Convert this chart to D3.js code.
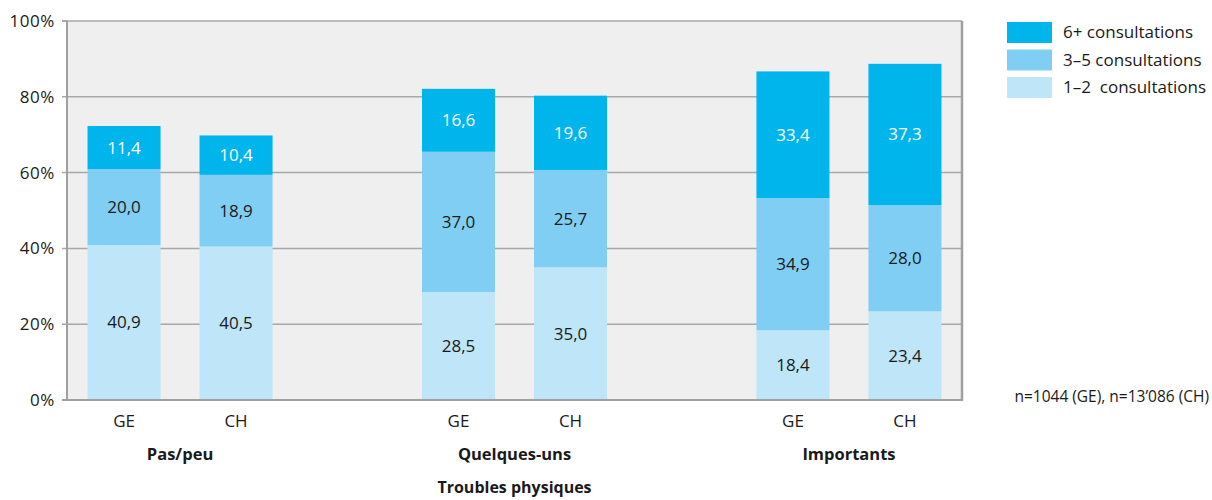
<!DOCTYPE html>
<html><head><meta charset="utf-8">
<script src="https://cdn.jsdelivr.net/npm/d3@7"></script>
<style>
body{margin:0;background:#fff;}
text{font-family:"Open Sans","Noto Sans",sans-serif;fill:#1a1a1a;white-space:pre;}
</style></head>
<body>
<svg id="chart" width="1212" height="500"></svg>
<script>
const groups = ["Pas/peu", "Quelques-uns", "Importants"];
const regions = ["GE", "CH"];
const seriesNames = ["1–2  consultations", "3–5 consultations", "6+ consultations"];
const val12 = [40.9, 40.5, 28.5, 35.0, 18.4, 23.4];
const val35 = [20.0, 18.9, 37.0, 25.7, 34.9, 28.0];
const val6p = [11.4, 10.4, 16.6, 19.6, 33.4, 37.3];
const yTicks = [0, 20, 40, 60, 80, 100];
const colors = ["#bee5f8", "#81cef4", "#00b5ec"];
const axisTitle = "Troubles physiques";
const note = "n=1044 (GE), n=13’086 (CH)";

const svg = d3.select("#chart");
const x0 = 67, x1 = 962, yTop = 21, yBot = 400;

const y = d3.scaleLinear().domain([0, 100]).range([yBot, yTop]);
const xg = d3.scalePoint().domain(groups).range([x0, x1]).padding(0.338);
const xs = d3.scaleBand().domain(regions).range([-112, 112]).paddingInner(0.348).paddingOuter(0.174);

// plot background
svg.append("rect").attr("x", x0).attr("y", yTop).attr("width", x1 - x0).attr("height", yBot - yTop).attr("fill", "#efefef");

// gridlines
svg.append("g").selectAll("line").data(yTicks.filter(d => d > 0)).join("line")
  .attr("x1", x0 - 5).attr("x2", x1).attr("y1", d => y(d)).attr("y2", d => y(d))
  .attr("stroke", "#a8a8a8").attr("stroke-width", 1.5);

// data rows
const rows = [];
groups.forEach((g, gi) => regions.forEach((r, ri) => {
  const i = gi * 2 + ri;
  rows.push({group: g, region: r, vals: [val12[i], val35[i], val6p[i]]});
}));

const stack = d3.stack().keys([0, 1, 2]).value((d, k) => d.vals[k]);
const stacked = stack(rows);

const barG = svg.append("g");
stacked.forEach((layer, k) => {
  barG.append("g").selectAll("rect").data(layer).join("rect")
    .attr("x", d => xg(d.data.group) + xs(d.data.region))
    .attr("width", xs.bandwidth())
    .attr("y", d => y(d[1]))
    .attr("height", d => y(d[0]) - y(d[1]))
    .attr("fill", colors[k]);
  barG.append("g").selectAll("text").data(layer).join("text")
    .attr("x", d => xg(d.data.group) + xs(d.data.region) + xs.bandwidth() / 2)
    .attr("y", d => (y(d[0]) + y(d[1])) / 2)
    .attr("dy", "0.35em")
    .attr("text-anchor", "middle")
    .style("font-size", "17px")
    .style("fill", k === 2 ? "#ffffff" : "#1a1a1a")
    .text(d => d.data.vals[k].toFixed(1).replace(".", ","));
});

// axes lines
svg.append("line").attr("x1", x0).attr("x2", x0).attr("y1", yTop).attr("y2", yBot + 1).attr("stroke", "#a0a0a0").attr("stroke-width", 2);
svg.append("line").attr("x1", x1).attr("x2", x1).attr("y1", yTop).attr("y2", yBot + 1).attr("stroke", "#a0a0a0").attr("stroke-width", 2.5);
svg.append("line").attr("x1", x0 - 5).attr("x2", x1 + 1).attr("y1", yBot).attr("y2", yBot).attr("stroke", "#a0a0a0").attr("stroke-width", 2);
svg.append("line").attr("x1", x0 - 5).attr("x2", x0).attr("y1", yTop).attr("y2", yTop).attr("stroke", "#a0a0a0").attr("stroke-width", 1.5);

// y tick labels
svg.append("g").selectAll("text").data(yTicks).join("text")
  .attr("x", 55).attr("y", d => y(d)).attr("dy", "0.35em")
  .attr("text-anchor", "end").style("font-size", "17px").style("letter-spacing", "0.6px")
  .text(d => d + "%");

// x labels
svg.append("g").selectAll("text").data(rows).join("text")
  .attr("x", d => xg(d.group) + xs(d.region) + xs.bandwidth() / 2)
  .attr("y", 421).attr("dy", "0.35em").attr("text-anchor", "middle")
  .style("font-size", "17px").text(d => d.region);

svg.append("g").selectAll("text").data(groups).join("text")
  .attr("x", d => xg(d)).attr("y", 454).attr("dy", "0.35em").attr("text-anchor", "middle")
  .style("font-size", "16.5px").style("font-weight", "bold").text(d => d);

svg.append("text").attr("x", (x0 + x1) / 2).attr("y", 487).attr("dy", "0.35em").attr("text-anchor", "middle")
  .style("font-size", "16px").style("font-weight", "bold").text(axisTitle);

// legend
const legendOrder = [2, 1, 0];
const lg = svg.append("g");
legendOrder.forEach((k, i) => {
  lg.append("rect").attr("x", 1007).attr("y", 22 + i * 27.5).attr("width", 45).attr("height", 21).attr("fill", colors[k]);
  lg.append("text").attr("x", 1063).attr("y", 22 + i * 27.5 + 10.5).attr("dy", "0.35em")
    .style("font-size", "17px").text(seriesNames[k]);
});

svg.append("text").attr("x", 1209).attr("y", 397).attr("dy", "0.35em").attr("text-anchor", "end")
  .style("font-size", "15.5px").text(note);
</script>
</body></html>
